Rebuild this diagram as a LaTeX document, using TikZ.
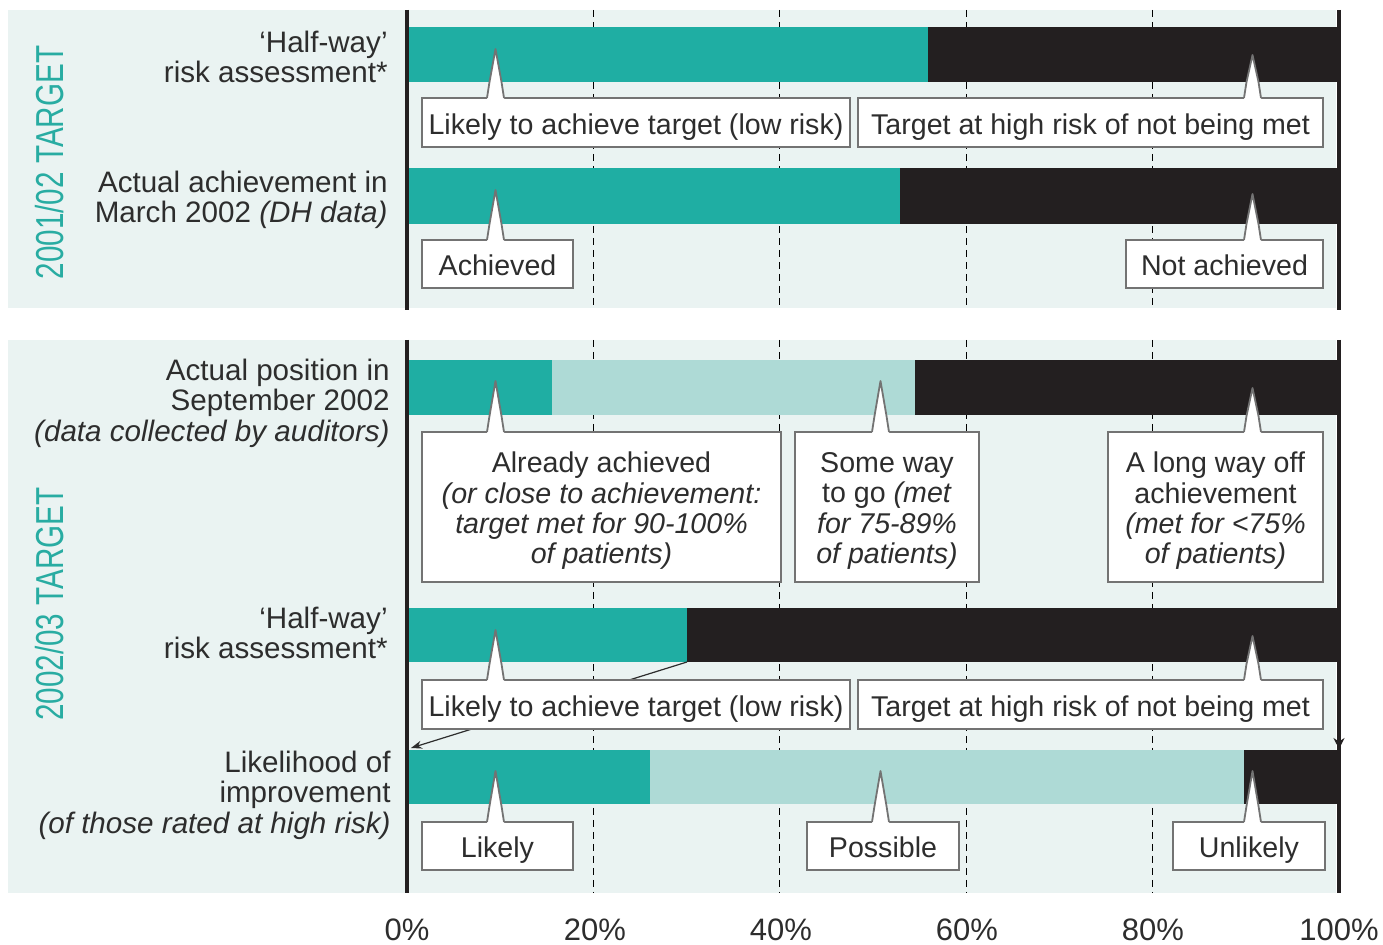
\documentclass[tikz,border=0pt]{standalone}
\usepackage{fontspec}
\setmainfont{Liberation Sans}
\usetikzlibrary{arrows.meta}
\definecolor{tealA}{RGB}{31,174,163}
\definecolor{tealL}{RGB}{174,218,214}
\definecolor{barK}{RGB}{35,31,32}
\definecolor{panel}{RGB}{234,243,242}
\definecolor{vlab}{RGB}{40,172,162}
\definecolor{txt}{RGB}{45,45,45}
\definecolor{boxg}{RGB}{115,115,115}
\newcommand\callspike[3]{%
  \fill[white] ({#1-8.5},{#3+1.5}) -- ({#1-8.5},#3) -- ({#1-6},{#3-16}) -- (#1,#2) -- ({#1+6},{#3-16}) -- ({#1+8.5},#3) -- ({#1+8.5},{#3+1.5}) -- cycle;
  \draw[boxline,line join=round] ({#1-8.5},#3) -- ({#1-6},{#3-16}) -- (#1,#2) -- ({#1+6},{#3-16}) -- ({#1+8.5},#3);
}
\begin{document}
\begin{tikzpicture}[x=0.5pt,y=-0.5pt,
  boxline/.style={draw=boxg,line width=0.9pt},
  callout/.style={draw=boxg,line width=0.9pt,fill=white,inner sep=0pt,text=txt,
    font=\fontsize{14.3}{15.2}\selectfont,text height=12pt,text depth=0.3pt},
  cbox/.style={draw=boxg,line width=0.9pt,fill=white,inner sep=0pt},
  ctext/.style={inner sep=0pt,text=txt,font=\fontsize{14.3}{15.2}\selectfont,align=center,yshift=-2pt},
  lbl/.style={anchor=east,inner sep=0pt,text=txt,align=right,font=\fontsize{14.8}{15.2}\selectfont},
  pct/.style={anchor=base,inner sep=0pt,text=txt,font=\fontsize{15.5}{16}\selectfont},
  vert/.style={anchor=base,rotate=90,inner sep=0pt,text=vlab,font=\fontsize{19.5}{20}\selectfont},
  grid/.style={black,line width=0.5pt,dash pattern=on 3.5pt off 2.5pt},
  axis/.style={barK,line width=2pt},
  arr/.style={txt,line width=0.6pt,-{Stealth[length=5.5pt,width=4pt]}},
  darr/.style={barK,line width=0.6pt,-{Stealth[length=5.5pt,width=5.5pt]}}]
\useasboundingbox (0,0) rectangle (1383,945);
\fill[white] (0,0) rectangle (1383,945);
% panels
\fill[panel] (8,10) rectangle (1336,308);
\fill[panel] (8,340) rectangle (1336,893);
% grid
\foreach \p in {20,40,60,80}{
  \draw[grid] ({407+9.32*\p},10) -- ({407+9.32*\p},308);
  \draw[grid] ({407+9.32*\p},340) -- ({407+9.32*\p},893);
}
% bars
\fill[tealA] (409,27) rectangle (928,82);
\fill[barK] (928,27) rectangle (1341,82);
\fill[tealA] (409,168) rectangle (900,224);
\fill[barK] (900,168) rectangle (1341,224);
\fill[tealA] (409,360) rectangle (552,415);
\fill[tealL] (552,360) rectangle (915,415);
\fill[barK] (915,360) rectangle (1341,415);
\fill[tealA] (409,608) rectangle (687,662);
\fill[barK] (687,608) rectangle (1341,662);
\fill[tealA] (409,750) rectangle (650,804);
\fill[tealL] (650,750) rectangle (1244,804);
\fill[barK] (1244,750) rectangle (1341,804);
% axes
\draw[axis] (407,10) -- (407,310);
\draw[axis] (1339,10) -- (1339,310);
\draw[axis] (407,340) -- (407,893);
\draw[axis] (1339,340) -- (1339,893);
% arrows
\coordinate (b4end) at (687,662);
\coordinate (b5start) at (411,748);
\draw[arr] (b4end) -- (b5start);
\coordinate (b4r) at (1339,705);
\coordinate (b5r) at (1339,749);
\draw[darr] (b4r) -- (b5r);
% callouts
\node[callout,minimum width=214pt,minimum height=24.5pt] (c1) at (636,122.5) {Likely to achieve target (low risk)};
\node[callout,minimum width=232.5pt,minimum height=24.5pt] (c2) at (1090.5,122.5) {Target at high risk of not being met};
\node[callout,minimum width=75.5pt,minimum height=24pt] (c3) at (497.5,264) {Achieved};
\node[callout,minimum width=98.5pt,minimum height=24pt] (c4) at (1224.5,264) {Not achieved};
\node[cbox,minimum width=179.5pt,minimum height=75pt] (c5) at (601.5,507) {};
\node[ctext] (t5) at (c5.center) {Already achieved\\\textit{(or close to achievement:}\\\textit{target met for 90-100\%}\\\textit{of patients)}};
\node[cbox,minimum width=92pt,minimum height=75pt] (c6) at (887,507) {};
\node[ctext] (t6) at (c6.center) {Some way\\to go \textit{(met}\\\textit{for 75-89\%}\\\textit{of patients)}};
\node[cbox,minimum width=107.5pt,minimum height=75pt] (c7) at (1215.5,507) {};
\node[ctext] (t7) at (c7.center) {A long way off\\achievement\\\textit{(met for <75\%}\\\textit{of patients)}};
\node[callout,minimum width=214pt,minimum height=24.5pt] (c8) at (636,704.5) {Likely to achieve target (low risk)};
\node[callout,minimum width=232.5pt,minimum height=24.5pt] (c9) at (1090.5,704.5) {Target at high risk of not being met};
\node[callout,minimum width=75.5pt,minimum height=24pt] (c10) at (497.5,846) {Likely};
\node[callout,minimum width=76pt,minimum height=24pt] (c11) at (883,846) {Possible};
\node[callout,minimum width=76pt,minimum height=24pt] (c12) at (1249,846) {Unlikely};
% spikes
\callspike{495.5}{49}{98}
\callspike{1252.5}{55}{98}
\callspike{495.5}{190}{240}
\callspike{1252.5}{194}{240}
\callspike{495.5}{381}{432}
\callspike{880.5}{381}{432}
\callspike{1252.5}{388}{432}
\callspike{495.5}{630}{680}
\callspike{1252.5}{636}{680}
\callspike{495.5}{771}{822}
\callspike{880.5}{771}{822}
\callspike{1252.5}{771}{822}
% left labels
\node[lbl] (l1) at (388,57) {‘Half-way’\\risk assessment*};
\node[lbl] (l2) at (388,200) {Actual achievement in\\March 2002 \textit{(DH data)}};
\node[lbl] (l3) at (390,403) {Actual position in\\September 2002\\\textit{(data collected by auditors)}};
\node[lbl] (l4) at (388,633) {‘Half-way’\\risk assessment*};
\node[lbl] (l5) at (391,795) {Likelihood of\\improvement\\\textit{(of those rated at high risk)}};
% vertical labels
\node[vert] (v1) at (63,162.5) {\scalebox{0.76}[1]{2001/02 TARGET}};
\node[vert] (v2) at (63,604) {\scalebox{0.76}[1]{2002/03 TARGET}};
% percent axis
\node[pct] (p0) at (407,941) {0\%};
\node[pct] (p20) at (595,941) {20\%};
\node[pct] (p40) at (781,941) {40\%};
\node[pct] (p60) at (967,941) {60\%};
\node[pct] (p80) at (1153,941) {80\%};
\node[pct] (p100) at (1339,941) {100\%};
\end{tikzpicture}
\end{document}
